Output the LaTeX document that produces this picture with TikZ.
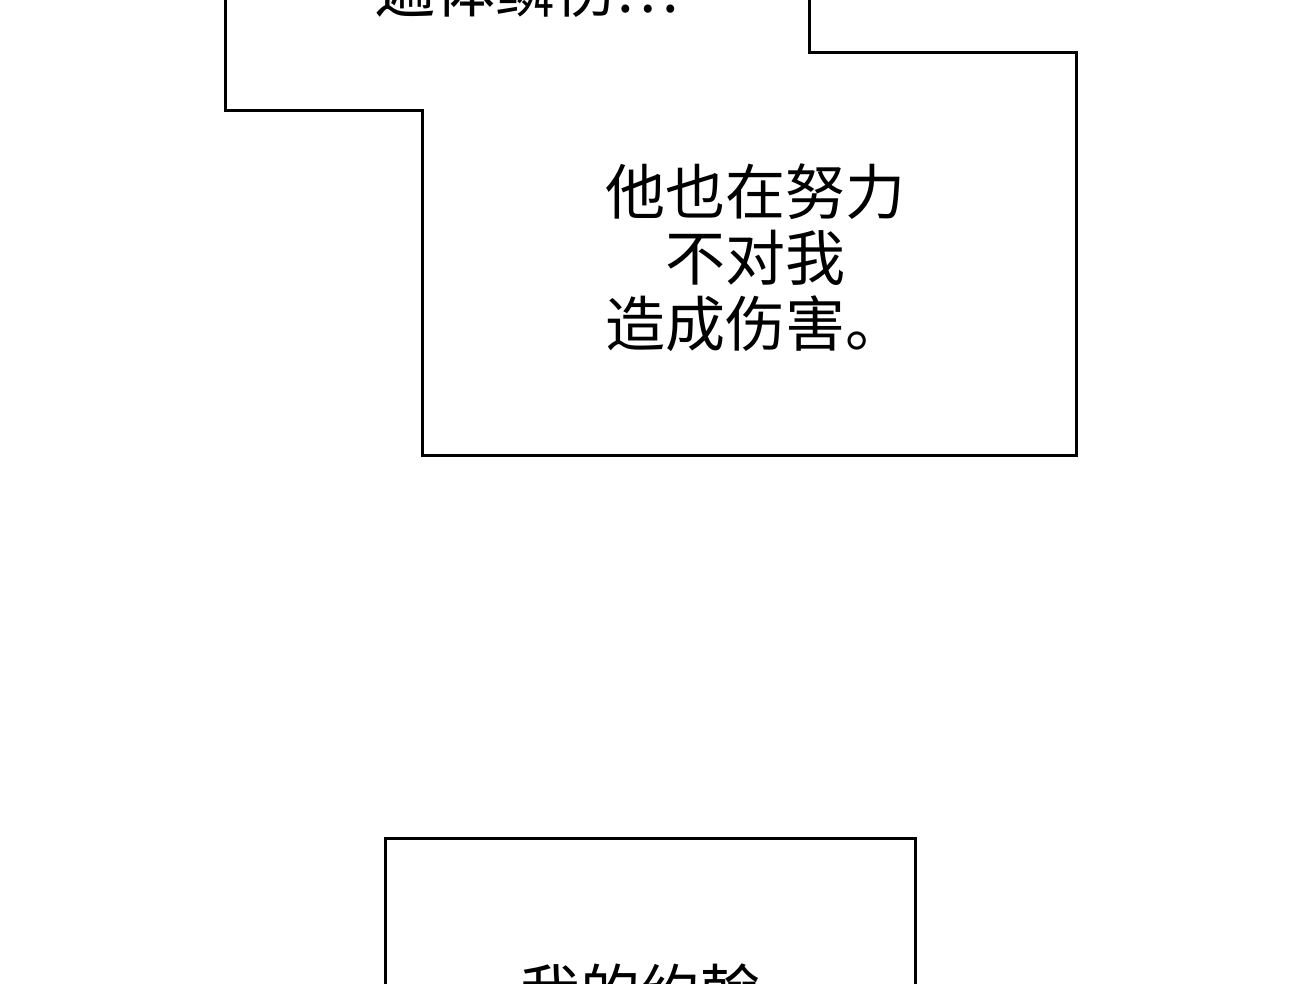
\documentclass[tikz,border=0pt]{standalone}
\usepackage{fontspec}
\newfontfamily\cjk{Noto Sans CJK SC}
\tikzset{
    panel/.style = {draw = black, line width = 3pt, fill = white},
    speech/.style = {font = \cjk\fontsize{60}{66}\selectfont, align = center}
}
\begin{document}
\begin{tikzpicture}[x = 1pt, y = -1pt]
    \useasboundingbox (0, 0) rectangle (1300, 984);
    \clip (0, 0) rectangle (1300, 984);

    % oben
    \draw [panel] (225, -20) -- (225, 111) -- (422, 111) -- (422, 455)
        -- (1076, 455) -- (1076, 53) -- (809, 53) -- (809, -20);
    \node [speech] (top) at (527, -10) {遍体鳞伤…};
    \node [speech] (middle) at (755, 258) {他也在努力\\不对我\\造成伤害。};

    % unten
    \draw [panel] (385, 1010) -- (385, 838) -- (915, 838) -- (915, 1010);
    \node [speech] (bottom) at (640, 992) {我的约翰};
\end{tikzpicture}
\end{document}
